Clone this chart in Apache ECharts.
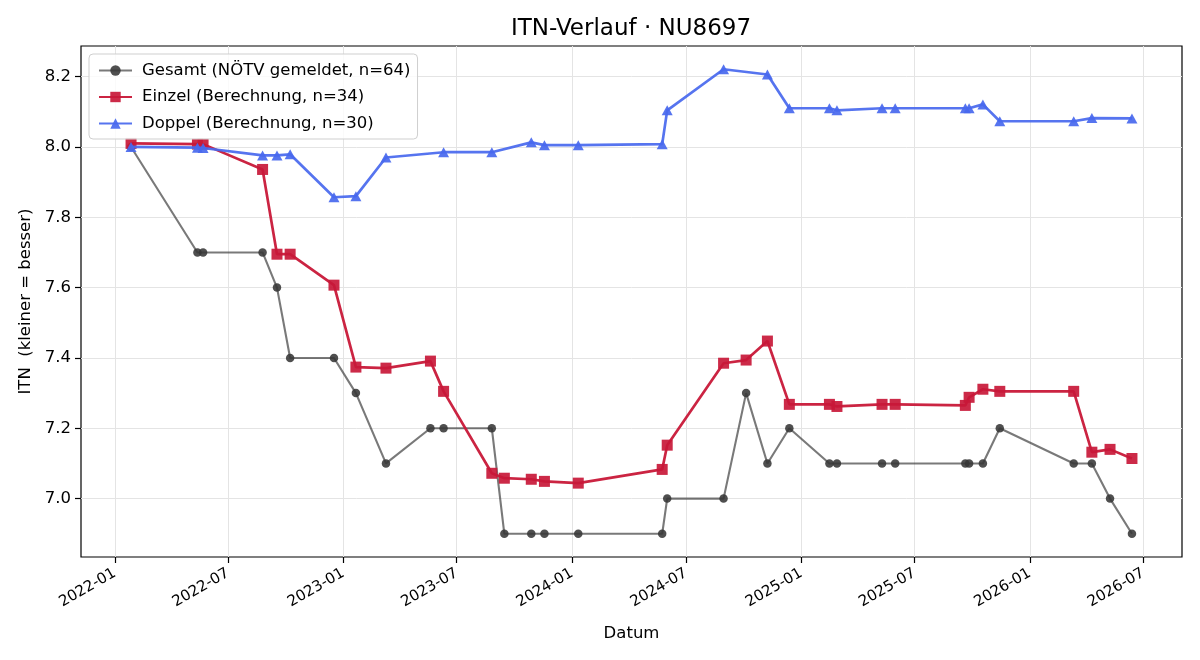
<!DOCTYPE html>
<html><head><meta charset="utf-8">
<script src="https://cdn.jsdelivr.net/npm/echarts@6/dist/echarts.min.js"></script>
<style>html,body{margin:0;padding:0;background:#fff}#c{width:1200px;height:660px}</style>
</head><body><div id="c"></div>
<script>
// ---- data ----
const dates = ['2022-01-27','2022-05-13','2022-05-22','2022-08-25','2022-09-17','2022-10-08','2022-12-17',
  '2023-01-21','2023-03-10','2023-05-20','2023-06-10','2023-08-26','2023-09-15','2023-10-28','2023-11-18',
  '2024-01-11','2024-05-24','2024-06-01','2024-08-30','2024-10-05','2024-11-08','2024-12-13',
  '2025-02-15','2025-02-27','2025-05-10','2025-05-31','2025-09-20','2025-09-26','2025-10-18','2025-11-14',
  '2026-03-12','2026-04-10','2026-05-09','2026-06-13'];
const gesamt = [8.0,7.7,7.7,7.7,7.6,7.4,7.4,7.3,7.1,7.2,7.2,7.2,6.9,6.9,6.9,6.9,6.9,7.0,7.0,7.3,7.1,7.2,
  7.1,7.1,7.1,7.1,7.1,7.1,7.1,7.2,7.1,7.1,7.0,6.9];
const einzel = [8.010,8.008,8.008,7.936,7.695,7.695,7.607,7.374,7.371,7.391,7.305,7.072,7.058,7.055,7.049,
  7.044,7.083,7.152,7.385,7.394,7.448,7.268,7.268,7.262,7.268,7.268,7.265,7.288,7.311,7.305,7.305,7.132,7.140,7.114];
const doppel = [8.000,7.998,7.997,7.976,7.976,7.979,7.857,7.860,7.970,null,7.985,7.985,null,8.013,8.005,
  8.005,8.008,8.104,8.221,null,8.206,8.110,8.110,8.104,8.110,8.110,8.110,8.110,8.121,8.073,8.073,8.082,null,8.081];
const xTickLabels = ['2022-01','2022-07','2023-01','2023-07','2024-01','2024-07','2025-01','2025-07','2026-01','2026-07'];
const yTickValues = [7.0,7.2,7.4,7.6,7.8,8.0,8.2];
const seriesNames = ['Gesamt (NÖTV gemeldet, n=64)','Einzel (Berechnung, n=34)','Doppel (Berechnung, n=30)'];

// ---- build ----
function ts(s){const p=s.split('-').map(Number);return new Date(p[0],p[1]-1,p[2]||1).getTime();}
const t = dates.map(ts);
const pairs = arr => t.map((x,i)=>[x,arr[i]]).filter(d=>d[1]!=null);
const tMin=Math.min(...t), tMax=Math.max(...t), tPad=(tMax-tMin)*0.05;
const allV=[...gesamt,...einzel,...doppel].filter(v=>v!=null);
const vMin=Math.min(...allV), vMax=Math.max(...allV), vPad=(vMax-vMin)*0.05;
const xTicks = xTickLabels.map(ts);
const F='DejaVu Sans';
const pad2=n=>(n<10?'0':'')+n;

const chart = echarts.init(document.getElementById('c'), null, {renderer:'canvas'});
chart.setOption({
  animation:false,
  backgroundColor:'#fff',
  title:{text:'ITN-Verlauf · NU8697', left:631, top:18, padding:0, textAlign:'center',
    textStyle:{fontFamily:F, fontSize:23, fontWeight:'normal', color:'#000'}},
  legend:{
    orient:'vertical', left:89, top:54, padding:[8,7,7,9],
    itemWidth:33, itemHeight:13, itemGap:9.5,
    backgroundColor:'rgba(255,255,255,0.8)', borderColor:'#cfcfcf', borderWidth:1, borderRadius:4,
    textStyle:{fontFamily:F, fontSize:16.5, color:'#000', lineHeight:17, padding:[0,0,0,5]},
    data:seriesNames
  },
  grid:{left:81, right:18, top:46, bottom:103, show:true, borderColor:'#000', borderWidth:1.2, containLabel:false},
  xAxis:{
    type:'value', min:tMin-tPad, max:tMax+tPad,
    name:'Datum', nameLocation:'middle', nameGap:68,
    nameTextStyle:{fontFamily:F, fontSize:16.5, color:'#000'},
    axisLine:{show:false},
    axisTick:{show:true, length:6, lineStyle:{color:'#000', width:1.2}, customValues:xTicks},
    axisLabel:{customValues:xTicks, rotate:30, margin:15, fontFamily:F, fontSize:15, color:'#000',
      formatter:v=>{const d=new Date(v);return d.getFullYear()+'-'+pad2(d.getMonth()+1);}},
    splitLine:{show:true, lineStyle:{color:'#e4e4e4', width:1}}
  },
  yAxis:{
    type:'value', min:vMin-vPad, max:vMax+vPad,
    name:'ITN  (kleiner = besser)', nameLocation:'middle', nameGap:44, nameRotate:90,
    nameTextStyle:{fontFamily:F, fontSize:16.5, color:'#000'},
    axisLine:{show:false},
    axisTick:{show:true, length:6, lineStyle:{color:'#000', width:1.2}, customValues:yTickValues},
    axisLabel:{customValues:yTickValues, margin:10, fontFamily:F, fontSize:16.5, color:'#000',
      formatter:v=>v.toFixed(1)},
    splitLine:{show:true, lineStyle:{color:'#e4e4e4', width:1}}
  },
  series:[
    {name:seriesNames[0], type:'line', data:pairs(gesamt), symbol:'circle', symbolSize:8.5,
      lineStyle:{color:'rgba(51,51,51,0.66)', width:2.1},
      itemStyle:{color:'rgba(55,55,55,0.88)'}, z:2},
    {name:seriesNames[1], type:'line', data:pairs(einzel), symbol:'rect', symbolSize:11,
      lineStyle:{color:'rgba(200,24,56,0.95)', width:2.7},
      itemStyle:{color:'rgba(200,24,56,0.92)'}, z:3},
    {name:seriesNames[2], type:'line', data:pairs(doppel), symbol:'triangle', symbolSize:[11,10],
      lineStyle:{color:'rgba(72,104,238,0.92)', width:2.7},
      itemStyle:{color:'rgba(72,104,238,0.92)'}, z:4}
  ]
});
</script></body></html>
